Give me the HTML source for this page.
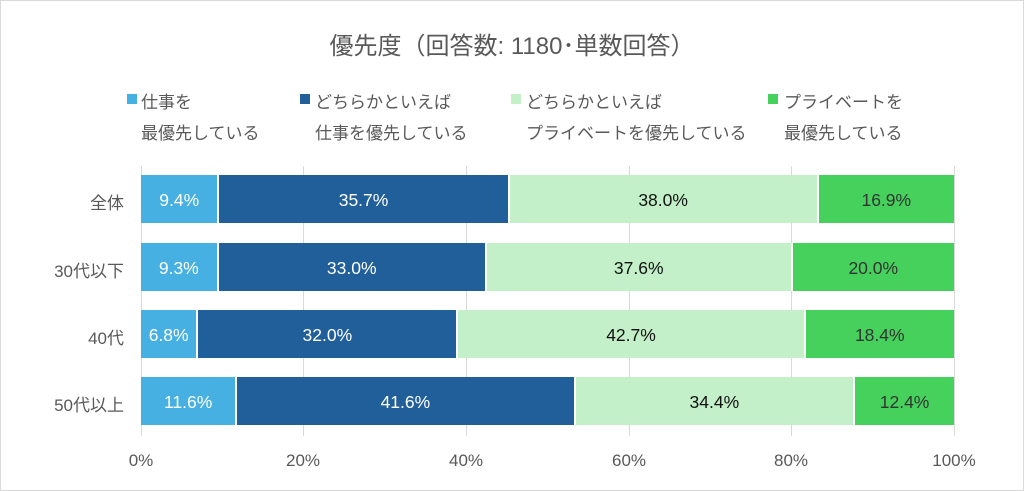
<!DOCTYPE html>
<html><head><meta charset="utf-8"><style>
body{margin:0;width:1024px;height:491px;background:#fff;position:relative;overflow:hidden;font-family:"Liberation Sans","Noto Sans CJK JP",sans-serif;color:#595959}
.frame{position:absolute;left:0;top:0;width:1022px;height:489px;border:1px solid #d9d9d9}
.t{position:absolute;white-space:nowrap}
.title{left:0;width:1024px;text-align:center;top:26px;font-size:24px}
.sq{position:absolute;width:10px;height:10px}
.lg{font-size:17px}
.grid{position:absolute;top:166px;height:270px;width:1px;background:#d9d9d9}
.row{position:absolute;left:141px;width:813px;height:48px;display:flex}
.row div{height:100%;box-sizing:border-box;display:flex;align-items:center;justify-content:center;font-size:17.5px;padding-top:2px}
.row div+div{border-left:2px solid #fff}
.a{background:#45B0E1;color:#fff}.b{background:#215F9A;color:#fff}.c{background:#C3F0C8;color:#111}.d{background:#46D15C;color:#333}
.cat{right:900px;font-size:17px;text-align:right}
.ax{font-size:17px;width:70px;text-align:center;top:451px}
</style></head><body>
<div class="frame"></div>
<div class="t title">優先度（回答数: 1180･単数回答）</div>
<div class="sq" style="left:127px;top:94px;background:#45B0E1"></div>
<div class="t lg" style="left:141px;top:88px">仕事を</div>
<div class="t lg" style="left:141px;top:119px">最優先している</div>
<div class="sq" style="left:300px;top:94px;background:#215F9A"></div>
<div class="t lg" style="left:315px;top:88px">どちらかといえば</div>
<div class="t lg" style="left:315px;top:119px">仕事を優先している</div>
<div class="sq" style="left:511px;top:94px;background:#C3F0C8"></div>
<div class="t lg" style="left:526px;top:88px">どちらかといえば</div>
<div class="t lg" style="left:526px;top:119px">プライベートを優先している</div>
<div class="sq" style="left:768px;top:94px;background:#46D15C"></div>
<div class="t lg" style="left:784px;top:88px">プライベートを</div>
<div class="t lg" style="left:784px;top:119px">最優先している</div>
<div class="grid" style="left:141px"></div>
<div class="grid" style="left:303px"></div>
<div class="grid" style="left:466px"></div>
<div class="grid" style="left:629px"></div>
<div class="grid" style="left:791px"></div>
<div class="grid" style="left:954px"></div>
<div class="row" style="top:175px"><div class="a" style="width:9.4%">9.4%</div><div class="b" style="width:35.7%">35.7%</div><div class="c" style="width:38.0%">38.0%</div><div class="d" style="width:16.9%">16.9%</div></div>
<div class="row" style="top:243px"><div class="a" style="width:9.3%">9.3%</div><div class="b" style="width:33.0%">33.0%</div><div class="c" style="width:37.6%">37.6%</div><div class="d" style="width:20.1%">20.0%</div></div>
<div class="row" style="top:310px"><div class="a" style="width:6.8%">6.8%</div><div class="b" style="width:32.0%">32.0%</div><div class="c" style="width:42.7%">42.7%</div><div class="d" style="width:18.5%">18.4%</div></div>
<div class="row" style="top:377px"><div class="a" style="width:11.6%">11.6%</div><div class="b" style="width:41.6%">41.6%</div><div class="c" style="width:34.4%">34.4%</div><div class="d" style="width:12.4%">12.4%</div></div>
<div class="t cat" style="top:189px">全体</div>
<div class="t cat" style="top:257px">30代以下</div>
<div class="t cat" style="top:324px">40代</div>
<div class="t cat" style="top:391px">50代以上</div>
<div class="t ax" style="left:106px">0%</div>
<div class="t ax" style="left:268px">20%</div>
<div class="t ax" style="left:431px">40%</div>
<div class="t ax" style="left:594px">60%</div>
<div class="t ax" style="left:756px">80%</div>
<div class="t ax" style="left:919px">100%</div>
</body></html>
